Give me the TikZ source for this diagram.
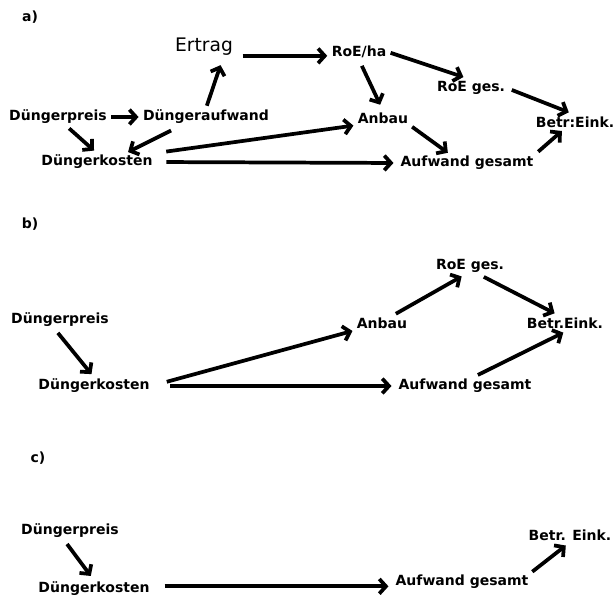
\documentclass[tikz,border=0pt]{standalone}
\usepackage{fontspec}
\setmainfont{DejaVu Sans}
\usetikzlibrary{arrows.meta}

\tikzset{every picture/.style={line width=0.75pt}}
\tikzset{
	begriff/.style={inner sep=1pt, font=\bfseries\fontsize{10.5}{12}\selectfont},
	teil/.style={inner sep=1pt, font=\bfseries\fontsize{10.5}{12}\selectfont},
	pfeil/.style={line width=2.8pt, -{Straight Barb[length=5pt,width=11pt]}, shorten <=2pt, shorten >=2pt},
}

\begin{document}
\begin{tikzpicture}[x=0.75pt,y=0.75pt,yscale=-1,xscale=1]
	\useasboundingbox (0,0) rectangle (614,598);

	% Teil a)
	\node [teil] (labA) at (30,17) {a)};
	\node [begriff, font=\fontsize{14}{16}\selectfont] (ertrag) at (204,47) {Ertrag};
	\node [begriff] (preisA) at (58,117) {Düngerpreis};
	\node [begriff] (daufw) at (206,117) {Düngeraufwand};
	\node [begriff] (kostenA) at (97,162) {Düngerkosten};
	\node [begriff] (roeha) at (359,52) {RoE/ha};
	\node [begriff] (roegesA) at (471,88) {RoE ges.};
	\node [begriff] (anbauA) at (383,118) {Anbau};
	\node [begriff] (betrA) at (575,122) {Betr:Eink.};
	\node [begriff] (aufwA) at (467,163) {Aufwand gesamt};

	%Pfeile a)
	\draw [pfeil, shorten <=6pt] ([yshift=3pt]ertrag.base east) -- ([yshift=3pt]ertrag.base east -| roeha.west);
	\draw [pfeil, shorten >=6pt] (roeha.east) -- (roegesA.north);
	\draw [pfeil, shorten <=5pt, shorten >=5pt] (roeha.south) -- (anbauA.north);
	\draw [pfeil, shorten <=4pt, shorten >=5pt] (roegesA.east) -- (betrA.north);
	\draw [pfeil] (anbauA.south east) -- (aufwA.153);
	\draw [pfeil, shorten <=3pt] (aufwA.north east) -- (betrA.213);
	\draw [pfeil, shorten <=9pt] (kostenA.north east) -- (anbauA.south west);
	\draw [pfeil, shorten <=9pt, shorten >=4pt] (kostenA.east) -- (aufwA.west);
	\draw [pfeil] (preisA.east) -- (daufw.west);
	\draw [pfeil, shorten <=3pt, shorten >=3pt] (preisA.-47) -- (kostenA.north);
	\draw [pfeil, shorten <=8pt] (daufw.199) -- (kostenA.17);
	\draw [pfeil, shorten >=6pt] (daufw.north) -- (ertrag.-29);

	% Teil b)
	\node [teil] (labB) at (30,224) {b)};
	\node [begriff] (preisB) at (60,320) {Düngerpreis};
	\node [begriff] (kostenB) at (94,386) {Düngerkosten};
	\node [begriff] (anbauB) at (382,323) {Anbau};
	\node [begriff] (roegesB) at (470,266) {RoE ges.};
	\node [begriff] (betrB) at (565,323) {Betr.Eink.};
	\node [begriff] (aufwB) at (465,386) {Aufwand gesamt};

	%Pfeile b)
	\draw [pfeil, shorten <=4pt, shorten >=3pt] (preisB.-122) -- (kostenB.north);
	\draw [pfeil, shorten <=12pt] (kostenB.east) -- (anbauB.south west);
	\draw [pfeil, shorten <=14pt, shorten >=4pt] (kostenB.east) -- (aufwB.west);
	\draw [pfeil, shorten <=3pt, shorten >=3pt] (anbauB.35) -- (roegesB.-120);
	\draw [pfeil, shorten <=4pt, shorten >=4pt] (roegesB.-43) -- (betrB.128);
	\draw [pfeil, shorten <=4pt, shorten >=4pt] (aufwB.47) -- (betrB.-67);

	% Teil c)
	\node [teil] (labC) at (38,458) {c)};
	\node [begriff] (preisC) at (70,531) {Düngerpreis};
	\node [begriff] (kostenC) at (94,589) {Düngerkosten};
	\node [begriff] (aufwC) at (462,582) {Aufwand gesamt};
	\node [begriff] (betrC) at (570,535) {Betr. Eink.};

	%Pfeile c)
	\draw [pfeil, shorten <=4pt, shorten >=4pt] (preisC.-125) -- (kostenC.north);
	\draw [pfeil, shorten <=10pt, shorten >=4pt] ([yshift=-2pt]kostenC.east) -- ([yshift=-2pt]kostenC.east -| aufwC.west);
	\draw [pfeil, shorten >=4pt] (aufwC.north east) -- (betrC.south);
\end{tikzpicture}
\end{document}
